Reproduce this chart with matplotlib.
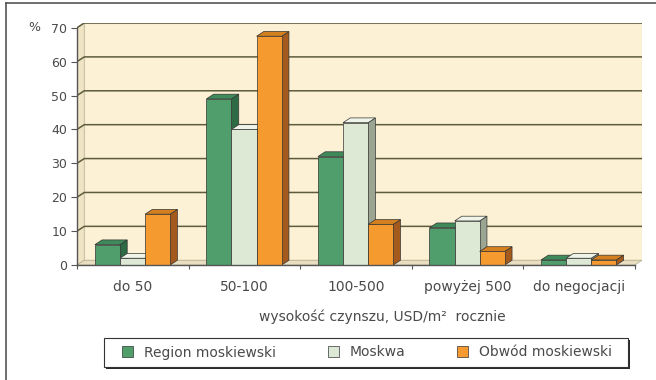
import matplotlib
matplotlib.use('Agg')
import matplotlib.pyplot as plt
from matplotlib.patches import Polygon, Rectangle
from matplotlib.lines import Line2D
import numpy as np

categories = ['do 50', '50-100', '100-500', 'powyżej 500', 'do negocjacji']
region = [6, 49, 32, 11, 1.5]
moskwa = [2, 40, 42, 13, 2]
obwod = [15, 67.5, 12, 4, 1.5]
series_names = ['Region moskiewski', 'Moskwa', 'Obwód moskiewski']

# front, side, top colours for each series
colors = [('#4f9e6b', '#2c6b44', '#3f8a5a'),
          ('#dde9d5', '#9aa592', '#eef4e8'),
          ('#f59a2f', '#a45a1c', '#d5801f')]

plt.rcParams['font.family'] = 'DejaVu Sans'
text_color = '#4a4a4a'

W, H = 656, 380
fig = plt.figure(figsize=(W / 100, H / 100), dpi=100)
ax = fig.add_axes([77 / W, (H - 265) / H, (642 - 77) / W, (265 - 23) / H])

n = len(categories)
dx, dy = 0.065, 1.4
x = np.arange(n)
width = 0.225
offset = 0.16

# back wall, side wall and floor
wall = '#fcf1d4'
ax.add_patch(Polygon([(dx, dy), (n + dx, dy), (n + dx, 70 + dy), (dx, 70 + dy)],
                     closed=True, facecolor=wall, edgecolor='#c9c2a8', lw=0.8, zorder=0))
ax.add_patch(Polygon([(0, 0), (dx, dy), (dx, 70 + dy), (0, 70)],
                     closed=True, facecolor='#efe4c4', edgecolor='#c9c2a8', lw=0.6, zorder=0))
ax.add_patch(Polygon([(0, 0), (n, 0), (n + dx, dy), (dx, dy)],
                     closed=True, facecolor='#e9dfc0', edgecolor='#b8b196', lw=0.6, zorder=0))

for v in range(10, 80, 10):
    ax.plot([0, dx, n + dx], [v, v + dy, v + dy], color='#5e5b3e', lw=1.1, zorder=1)

# 3D-looking bars
for i, vals in enumerate([region, moskwa, obwod]):
    front, side, top = colors[i]
    for j, v in enumerate(vals):
        x0 = j + offset + i * width
        x1 = x0 + width
        ax.add_patch(Polygon([(x1, 0), (x1 + dx, dy), (x1 + dx, v + dy), (x1, v)],
                             closed=True, facecolor=side, edgecolor='#333333', lw=0.5, zorder=2 + i))
        ax.add_patch(Polygon([(x0, v), (x1, v), (x1 + dx, v + dy), (x0 + dx, v + dy)],
                             closed=True, facecolor=top, edgecolor='#333333', lw=0.5, zorder=2 + i))
    ax.bar(x + offset + i * width, vals, width=width, align='edge', color=front,
           edgecolor='#333333', linewidth=0.5, zorder=2 + i, label=series_names[i])

ax.set_xlim(0, n + dx)
ax.set_ylim(0, 70 + dy)
for s in ax.spines.values():
    s.set_visible(False)
ax.set_facecolor('none')

# axis lines
ax.plot([0, 0], [0, 70], color='#555555', lw=1.0, zorder=6, clip_on=False)
ax.plot([0, n], [0, 0], color='#555555', lw=1.0, zorder=6, clip_on=False)
ax.set_yticks(range(0, 80, 10))
ax.tick_params(axis='y', length=4, color='#555555', labelsize=9, labelcolor=text_color, pad=3)
ax.set_xticks(np.arange(n + 1))
ax.set_xticklabels([''] * (n + 1))
ax.tick_params(axis='x', length=3, color='#555555')
for j, c in enumerate(categories):
    ax.text(j + 0.5, -4.5, c, ha='center', va='top', fontsize=10, color=text_color)

ax.text(-0.38, 70, '%', ha='center', va='center', fontsize=9, color=text_color)
fig.text(382 / W, 1 - 317 / H, 'wysokość czynszu, USD/m²  rocznie', ha='center',
         va='center', fontsize=10, color=text_color)

# legend box with a dark drop shadow
fig.add_artist(Rectangle((106 / W, (H - 369) / H), 524 / W, 29 / H, transform=fig.transFigure,
                         facecolor='#2a2a2a', edgecolor='none', zorder=3))
fig.add_artist(Rectangle((104 / W, (H - 367) / H), 524 / W, 29 / H, transform=fig.transFigure,
                         facecolor='white', edgecolor='#333333', lw=0.8, zorder=4))
leg = fig.legend(loc='center', ncol=3, mode='expand',
                 bbox_to_anchor=(122 / W, (H - 367) / H, (612 - 122) / W, 29 / H),
                 frameon=False, fontsize=10, handlelength=0.8, handleheight=0.8,
                 handletextpad=0.8, borderaxespad=0, borderpad=0)
leg.set_zorder(5)
for t in leg.get_texts():
    t.set_color(text_color)

# outer frame
fig.add_artist(Line2D([6 / W, 6 / W], [0, 1 - 3 / H], color='#555555', lw=1.2))
fig.add_artist(Line2D([6 / W, 1], [1 - 3 / H, 1 - 3 / H], color='#555555', lw=1.2))

fig.savefig('out.png', dpi=100)
